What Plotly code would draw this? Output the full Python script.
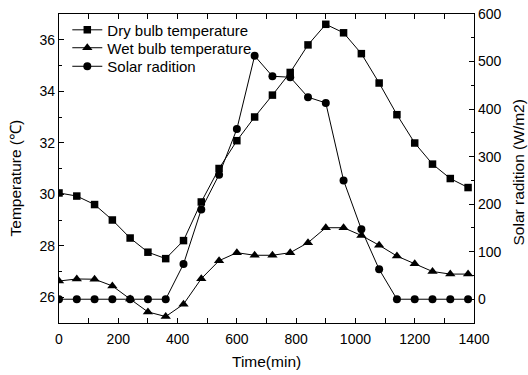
import plotly.graph_objects as go

# Sampling times (min)
time_min = [0, 60, 120, 180, 240, 300, 360, 420, 480, 540, 600, 660,
            720, 780, 840, 900, 960, 1020, 1080, 1140, 1200, 1260, 1320, 1380]

# Dry bulb temperature (°C)
dry_bulb = [30.05, 29.93, 29.6, 29.0, 28.3, 27.75, 27.5, 28.2, 29.7, 31.0, 32.08, 33.0,
            33.85, 34.73, 35.8, 36.6, 36.27, 35.46, 34.32, 33.09, 31.99, 31.17, 30.61, 30.26]

# Wet bulb temperature (°C)
wet_bulb = [26.63, 26.71, 26.7, 26.44, 25.93, 25.43, 25.25, 25.73, 26.72, 27.42, 27.73, 27.63,
            27.63, 27.73, 28.12, 28.7, 28.7, 28.4, 28.02, 27.6, 27.3, 27.0, 26.9, 26.9]

# Solar radiation (W/m2)
solar = [0, 0, 0, 0, 0, 0, 0, 74, 189, 262, 358, 512,
         469, 467, 425, 413, 250, 147, 63, 0, 0, 0, 0, 0]

FONT = "Arial, Liberation Sans, sans-serif"
BLACK = "#000000"

fig = go.Figure()

fig.add_trace(go.Scatter(
    x=time_min, y=dry_bulb, name="Dry bulb temperature", legend="legend",
    mode="lines+markers",
    line=dict(color=BLACK, width=1),
    marker=dict(symbol="square", size=7.5, color=BLACK),
))
fig.add_trace(go.Scatter(
    x=time_min, y=wet_bulb, name="Wet bulb temperature", legend="legend2",
    mode="lines+markers",
    line=dict(color=BLACK, width=1),
    marker=dict(symbol="triangle-up", size=9, color=BLACK),
))
fig.add_trace(go.Scatter(
    x=time_min, y=solar, name="Solar radition", yaxis="y2", legend="legend3",
    mode="lines+markers",
    line=dict(color=BLACK, width=1),
    marker=dict(symbol="circle", size=8, color=BLACK),
))

axis_common = dict(
    showline=True, linecolor=BLACK, linewidth=1.2,
    ticks="inside", ticklen=5, tickwidth=1, tickcolor=BLACK,
    showgrid=False, zeroline=False, automargin=False,
    tickfont=dict(family=FONT, size=14, color=BLACK),
)


def legend_box(y):
    # one legend per series so each row can sit at its own height
    return dict(
        x=0.02, y=y, xanchor="left", yanchor="middle",
        bgcolor="rgba(0,0,0,0)", borderwidth=0,
        font=dict(family=FONT, size=15, color=BLACK),
    )


title_font = dict(family=FONT, size=15.5, color=BLACK)

fig.update_layout(
    width=528, height=375,
    margin=dict(l=59, r=54, t=14, b=52),
    paper_bgcolor="white", plot_bgcolor="white",
    font=dict(family=FONT, size=14, color=BLACK),
    showlegend=True,
    legend=legend_box(0.948),
    legend2=legend_box(0.890),
    legend3=legend_box(0.830),
    xaxis=dict(
        **axis_common,
        range=[0, 1400], dtick=200, tick0=0,
        mirror="allticks",
        ticklabelstandoff=3,
        minor=dict(ticks="inside", ticklen=3, dtick=100, tickcolor=BLACK),
    ),
    yaxis=dict(
        **axis_common,
        range=[25, 37], dtick=2, tick0=26,
        minor=dict(ticks="inside", ticklen=3, dtick=1, tickcolor=BLACK),
    ),
    yaxis2=dict(
        **axis_common,
        overlaying="y", side="right", anchor="x",
        range=[-50, 600], dtick=100, tick0=0,
        minor=dict(ticks="inside", ticklen=3, dtick=50, tickcolor=BLACK),
    ),
    annotations=[
        dict(text="Time(min)", xref="paper", yref="paper", x=0.5, y=-0.125,
             xanchor="center", yanchor="middle", showarrow=False, font=title_font),
        dict(text="Temperature (℃)", xref="paper", yref="paper", x=-0.1043, y=0.47,
             xanchor="center", yanchor="middle", textangle=-90, showarrow=False, font=title_font),
        dict(text="Solar radition (W/m2)", xref="paper", yref="paper", x=1.1077, y=0.486,
             xanchor="center", yanchor="middle", textangle=-90, showarrow=False, font=title_font),
    ],
)

fig.write_html("out.html")
